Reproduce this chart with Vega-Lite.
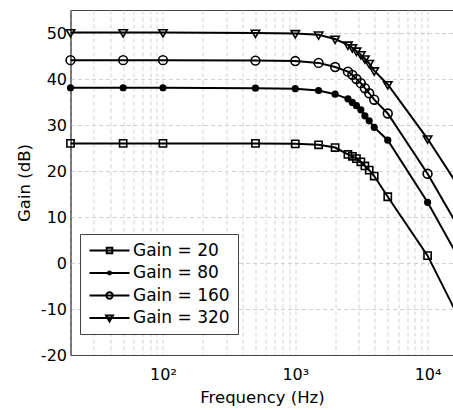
{
  "$schema": "https://vega.github.io/schema/vega-lite/v6.json",
  "width": 383,
  "height": 345,
  "autosize": {"type": "none"},
  "padding": {"left": 70.5, "top": 10, "right": 0, "bottom": 55},
  "config": {
    "font": "DejaVu Sans",
    "view": {"stroke": "#444", "strokeWidth": 1},
    "axis": {
      "grid": true,
      "gridDash": [4, 3],
      "gridColor": "#d2d2d2",
      "gridWidth": 1,
      "domainColor": "#444",
      "ticks": false,
      "labelFontSize": 16,
      "labelColor": "black",
      "titleFontSize": 16.5,
      "titleFontWeight": "normal",
      "titleColor": "black"
    }
  },
  "data": {
    "values": [
      {"series": "Gain = 20", "freq": 20, "gain": 26.0},
      {"series": "Gain = 20", "freq": 50, "gain": 26.0},
      {"series": "Gain = 20", "freq": 100, "gain": 26.0},
      {"series": "Gain = 20", "freq": 500, "gain": 26.0},
      {"series": "Gain = 20", "freq": 1000, "gain": 25.9},
      {"series": "Gain = 20", "freq": 1500, "gain": 25.7},
      {"series": "Gain = 20", "freq": 2000, "gain": 25.1},
      {"series": "Gain = 20", "freq": 2500, "gain": 23.6},
      {"series": "Gain = 20", "freq": 2700, "gain": 23.2},
      {"series": "Gain = 20", "freq": 2900, "gain": 22.7},
      {"series": "Gain = 20", "freq": 3130, "gain": 22.0},
      {"series": "Gain = 20", "freq": 3360, "gain": 21.1},
      {"series": "Gain = 20", "freq": 3620, "gain": 20.2},
      {"series": "Gain = 20", "freq": 3950, "gain": 18.9},
      {"series": "Gain = 20", "freq": 5000, "gain": 14.4},
      {"series": "Gain = 20", "freq": 10000, "gain": 1.6},
      {"series": "Gain = 20", "freq": 20000, "gain": -15.6},
      {"series": "Gain = 80", "freq": 20, "gain": 38.1},
      {"series": "Gain = 80", "freq": 50, "gain": 38.1},
      {"series": "Gain = 80", "freq": 100, "gain": 38.1},
      {"series": "Gain = 80", "freq": 500, "gain": 38.0},
      {"series": "Gain = 80", "freq": 1000, "gain": 37.9},
      {"series": "Gain = 80", "freq": 1500, "gain": 37.5},
      {"series": "Gain = 80", "freq": 2000, "gain": 36.7},
      {"series": "Gain = 80", "freq": 2500, "gain": 35.7},
      {"series": "Gain = 80", "freq": 2700, "gain": 34.9},
      {"series": "Gain = 80", "freq": 2900, "gain": 34.2},
      {"series": "Gain = 80", "freq": 3130, "gain": 33.3},
      {"series": "Gain = 80", "freq": 3360, "gain": 32.0},
      {"series": "Gain = 80", "freq": 3620, "gain": 30.9},
      {"series": "Gain = 80", "freq": 3950, "gain": 29.5},
      {"series": "Gain = 80", "freq": 5000, "gain": 26.7},
      {"series": "Gain = 80", "freq": 10000, "gain": 13.2},
      {"series": "Gain = 80", "freq": 20000, "gain": -2.3},
      {"series": "Gain = 160", "freq": 20, "gain": 44.1},
      {"series": "Gain = 160", "freq": 50, "gain": 44.1},
      {"series": "Gain = 160", "freq": 100, "gain": 44.1},
      {"series": "Gain = 160", "freq": 500, "gain": 44.0},
      {"series": "Gain = 160", "freq": 1000, "gain": 43.9},
      {"series": "Gain = 160", "freq": 1500, "gain": 43.5},
      {"series": "Gain = 160", "freq": 2000, "gain": 42.6},
      {"series": "Gain = 160", "freq": 2500, "gain": 41.6},
      {"series": "Gain = 160", "freq": 2700, "gain": 40.9},
      {"series": "Gain = 160", "freq": 2900, "gain": 40.0},
      {"series": "Gain = 160", "freq": 3130, "gain": 39.1},
      {"series": "Gain = 160", "freq": 3360, "gain": 38.0},
      {"series": "Gain = 160", "freq": 3620, "gain": 36.9},
      {"series": "Gain = 160", "freq": 3950, "gain": 35.5},
      {"series": "Gain = 160", "freq": 5000, "gain": 32.5},
      {"series": "Gain = 160", "freq": 10000, "gain": 19.4},
      {"series": "Gain = 160", "freq": 20000, "gain": 4.4},
      {"series": "Gain = 320", "freq": 20, "gain": 50.1},
      {"series": "Gain = 320", "freq": 50, "gain": 50.1},
      {"series": "Gain = 320", "freq": 100, "gain": 50.1},
      {"series": "Gain = 320", "freq": 500, "gain": 50.0},
      {"series": "Gain = 320", "freq": 1000, "gain": 49.9},
      {"series": "Gain = 320", "freq": 1500, "gain": 49.6},
      {"series": "Gain = 320", "freq": 2000, "gain": 48.7},
      {"series": "Gain = 320", "freq": 2500, "gain": 47.4},
      {"series": "Gain = 320", "freq": 2700, "gain": 46.8},
      {"series": "Gain = 320", "freq": 2900, "gain": 46.1},
      {"series": "Gain = 320", "freq": 3130, "gain": 45.3},
      {"series": "Gain = 320", "freq": 3360, "gain": 44.4},
      {"series": "Gain = 320", "freq": 3620, "gain": 43.4},
      {"series": "Gain = 320", "freq": 3950, "gain": 41.8},
      {"series": "Gain = 320", "freq": 5000, "gain": 38.8},
      {"series": "Gain = 320", "freq": 10000, "gain": 27.0},
      {"series": "Gain = 320", "freq": 20000, "gain": 13.7}
    ]
  },
  "encoding": {
    "x": {
      "field": "freq",
      "type": "quantitative",
      "scale": {"type": "log", "domain": [20, 15700], "nice": false},
      "axis": {
        "title": "Frequency (Hz)",
        "values": [20, 30, 40, 50, 60, 70, 80, 90, 100, 200, 300, 400, 500, 600, 700, 800, 900, 1000, 2000, 3000, 4000, 5000, 6000, 7000, 8000, 9000, 10000],
        "labelExpr": "datum.value == 100 ? '10²' : datum.value == 1000 ? '10³' : datum.value == 10000 ? '10⁴' : ''",
        "labelPadding": 11,
        "titlePadding": 7
      }
    },
    "y": {
      "field": "gain",
      "type": "quantitative",
      "scale": {"domain": [-20, 55], "nice": false, "zero": false},
      "axis": {
        "title": "Gain (dB)",
        "values": [-20, -10, 0, 10, 20, 30, 40, 50],
        "labelExpr": "datum.value < 0 ? '-' + abs(datum.value) : '' + datum.value",
        "labelPadding": 4,
        "titlePadding": 8
      }
    }
  },
  "layer": [
    {
      "mark": {"type": "line", "color": "black", "strokeWidth": 2},
      "encoding": {"detail": {"field": "series"}}
    },
    {
      "mark": {"type": "point", "stroke": "black", "strokeWidth": 1.6, "opacity": 1, "size": 64},
      "encoding": {
        "shape": {
          "field": "series",
          "type": "nominal",
          "scale": {
            "domain": ["Gain = 20", "Gain = 80", "Gain = 160", "Gain = 320"],
            "range": [
              "M-0.9,-0.9H0.9V0.9H-0.9Z",
              "M-0.7,0A0.7,0.7 0 1,0 0.7,0A0.7,0.7 0 1,0 -0.7,0Z",
              "M-1.1,0A1.1,1.1 0 1,0 1.1,0A1.1,1.1 0 1,0 -1.1,0Z",
              "M-1.05,-0.7H1.05L0,1.1Z"
            ]
          },
          "legend": null
        },
        "fill": {
          "field": "series",
          "type": "nominal",
          "scale": {"domain": ["Gain = 80", "Gain = 20", "Gain = 160", "Gain = 320"], "range": ["black", "transparent", "transparent", "transparent"]},
          "legend": null
        }
      }
    },
    {
      "mark": {"type": "point", "stroke": "black", "strokeWidth": 2, "size": 0},
      "encoding": {
        "shape": {
          "field": "series",
          "type": "nominal",
          "scale": {
            "domain": ["Gain = 20", "Gain = 80", "Gain = 160", "Gain = 320"],
            "range": [
              "M-5,0H5M-0.7,-0.7H0.7V0.7H-0.7Z",
              "M-5,0H5M-0.35,0A0.35,0.35 0 1,0 0.35,0A0.35,0.35 0 1,0 -0.35,0Z",
              "M-5,0H5M-0.8,0A0.8,0.8 0 1,0 0.8,0A0.8,0.8 0 1,0 -0.8,0Z",
              "M-5,0H5M-0.85,-0.6H0.85L0,0.85Z"
            ]
          },
          "legend": {
            "title": null,
            "orient": "none",
            "legendX": 9.5,
            "legendY": 224,
            "strokeColor": "#444",
            "fillColor": "white",
            "padding": 8,
            "symbolSize": 64,
            "symbolStrokeWidth": 2,
            "symbolStrokeColor": "black",
            "symbolFillColor": "transparent",
            "symbolOpacity": 1,
            "symbolOffset": 13,
            "labelOffset": 15,
            "labelFontSize": 17,
            "labelColor": "black",
            "rowPadding": 4.5
          }
        }
      }
    }
  ],
  "resolve": {"scale": {"shape": "independent", "fill": "independent"}}
}
